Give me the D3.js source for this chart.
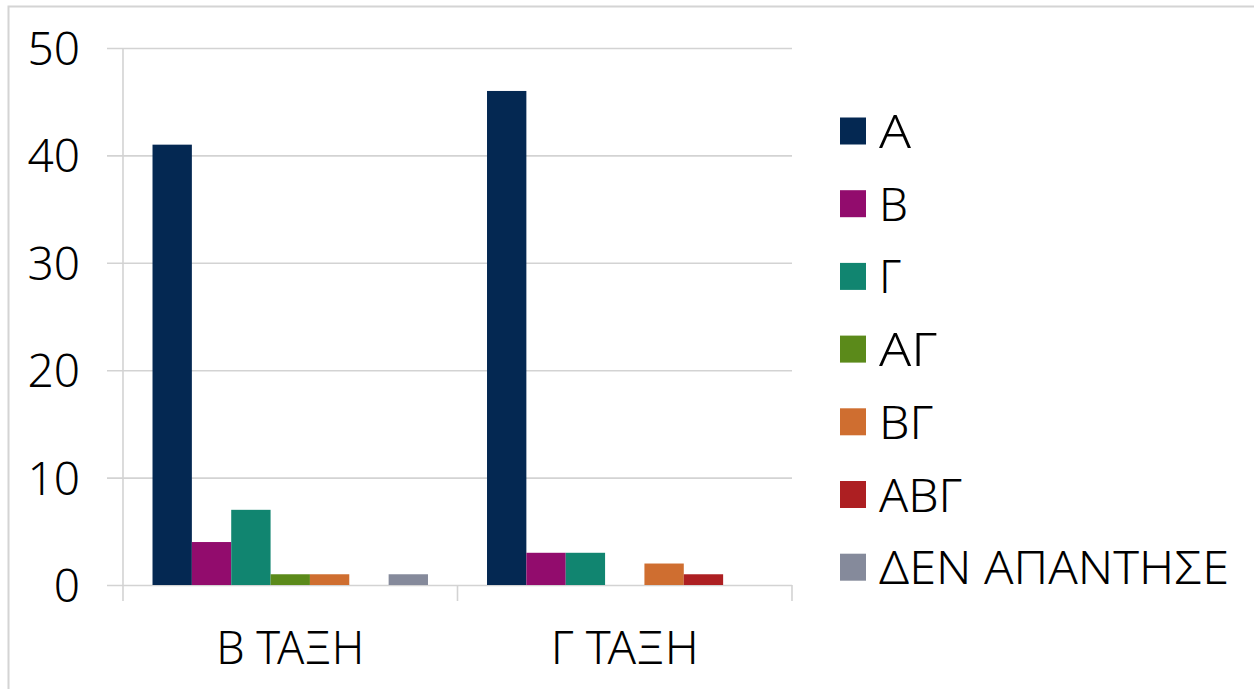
<!DOCTYPE html>
<html>
<head>
<meta charset="utf-8">
<script src="https://cdn.jsdelivr.net/npm/d3@7"></script>
<style>
  html, body { margin: 0; padding: 0; background: #fff; }
  svg { display: block; }
  text { font-family: "Noto Sans", "Open Sans", "DejaVu Sans", sans-serif; font-weight: 300; fill: #000; }
</style>
</head>
<body>
<svg id="chart" width="1254" height="689"></svg>
<script>
// Answers per class (B and Γ grade), one value per answer option
const categories = ["Β ΤΑΞΗ", "Γ ΤΑΞΗ"];
const seriesNames = ["Α", "Β", "Γ", "ΑΓ", "ΒΓ", "ΑΒΓ", "ΔΕΝ ΑΠΑΝΤΗΣΕ"];
const seriesColors = ["#042852", "#920c6d", "#118570", "#5b8a1a", "#cf6e30", "#ad1f22", "#858a9b"];
const valuesB = [41, 4, 7, 1, 1, 0, 1];
const valuesG = [46, 3, 3, 0, 2, 1, 0];
const yTicks = [0, 10, 20, 30, 40, 50];

const rows = [valuesB, valuesG].map((vals, i) => ({
  category: categories[i],
  values: seriesNames.map((name, j) => ({ name, value: vals[j], color: seriesColors[j] }))
}));

const svg = d3.select("#chart");

// outer frame (top and left edges visible)
svg.append("rect")
  .attr("x", 8.5).attr("y", 6.5)
  .attr("width", 1300).attr("height", 800)
  .attr("fill", "none").attr("stroke", "#d4d4d4").attr("stroke-width", 2);

const plot = { left: 123, right: 792, top: 48, bottom: 585 };

const x0 = d3.scaleBand().domain(categories).range([plot.left, plot.right]).paddingInner(0).paddingOuter(0);
const x1 = d3.scaleBand().domain(seriesNames).range([0, x0.bandwidth()]).paddingInner(0).paddingOuter(0.75);
const y = d3.scaleLinear().domain([0, 50]).range([plot.bottom, plot.top]);

const gridColor = "#d3d3d3";

// horizontal gridlines with left-side ticks
const yAxis = d3.axisLeft(y).tickValues(yTicks).tickSize(plot.right - plot.left + 16).tickPadding(26);
const gy = svg.append("g")
  .attr("transform", `translate(${plot.right},0)`)
  .call(yAxis);
gy.select(".domain").remove();
gy.selectAll(".tick line").attr("stroke", gridColor).attr("stroke-width", 1.6)
  .attr("x1", 0).attr("x2", -(plot.right - plot.left + 16));
gy.selectAll(".tick text")
  .attr("x", -(plot.right - 80) )
  .attr("text-anchor", "end")
  .attr("dy", "0.36em")
  .style("font-size", "46px");

// vertical axis line
svg.append("line")
  .attr("x1", plot.left).attr("x2", plot.left)
  .attr("y1", plot.top).attr("y2", plot.bottom)
  .attr("stroke", gridColor).attr("stroke-width", 1.6);

// category axis: boundary ticks and centred labels
const boundaries = [plot.left, ...categories.map(c => x0(c) + x0.bandwidth())];
svg.append("g").selectAll("line").data(boundaries).join("line")
  .attr("x1", d => d).attr("x2", d => d)
  .attr("y1", plot.bottom).attr("y2", plot.bottom + 16)
  .attr("stroke", gridColor).attr("stroke-width", 1.6);

svg.append("g").selectAll("text").data(categories).join("text")
  .attr("x", d => x0(d) + x0.bandwidth() / 2)
  .attr("y", 664)
  .attr("text-anchor", "middle")
  .style("font-size", "45px")
  .attr("textLength", 148)
  .attr("lengthAdjust", "spacingAndGlyphs")
  .text(d => d);

// bars
const groups = svg.append("g").selectAll("g").data(rows).join("g")
  .attr("transform", d => `translate(${x0(d.category)},0)`);
groups.selectAll("rect").data(d => d.values.filter(v => v.value > 0)).join("rect")
  .attr("x", d => x1(d.name))
  .attr("width", x1.bandwidth())
  .attr("y", d => y(d.value))
  .attr("height", d => y(0) - y(d.value))
  .attr("fill", d => d.color);

// legend
const legendWidths = [32, 29, 22, 58, 54, 83, 350];
const legend = svg.append("g").attr("transform", "translate(840,131)");
const item = legend.selectAll("g").data(seriesNames).join("g")
  .attr("transform", (d, i) => `translate(0,${i * 72.7})`);
item.append("rect")
  .attr("x", 0).attr("y", -13.5).attr("width", 26).attr("height", 27)
  .attr("fill", (d, i) => seriesColors[i]);
item.append("text")
  .attr("x", 39).attr("y", 17)
  .style("font-size", "46px")
  .attr("textLength", (d, i) => legendWidths[i])
  .attr("lengthAdjust", "spacingAndGlyphs")
  .text(d => d);
</script>
</body>
</html>
